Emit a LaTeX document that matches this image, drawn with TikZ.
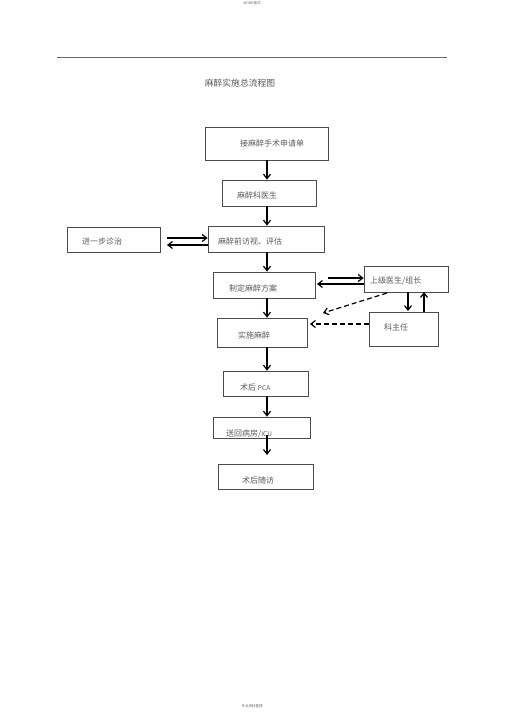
\documentclass[tikz,border=0pt]{standalone}
\usepackage{fontspec}
\setmainfont{Liberation Serif}
\newfontfamily\cjk{Noto Sans CJK SC}
\usetikzlibrary{arrows.meta}
\tikzset{
  box/.style={draw=black!70, line width=0.7pt, inner sep=0pt},
  lbl/.style={anchor=west, inner sep=0pt, font=\cjk\fontsize{8}{9}\selectfont, text=black!65},
  arr/.style={line width=1.2pt, -{Straight Barb[length=4.5pt,width=7pt,line width=1.2pt]}},
  darr/.style={arr, dashed, dash pattern=on 5pt off 3pt}
}
\newcommand{\bx}[5]{\node[box, minimum width=#3pt-#1pt, minimum height=#4pt-#2pt] (#5) at ({(#1+#3)/2},{(#2+#4)/2}) {};}
\begin{document}
\begin{tikzpicture}[x=1pt,y=-1pt]
\useasboundingbox (0,0) rectangle (505,714);
\node[inner sep=0pt, font=\cjk\fontsize{3.5}{4}\selectfont, text=black!60] (hdr) at (252,3.5) {WORD格式};
\node[inner sep=0pt, font=\cjk\fontsize{3.5}{4}\selectfont, text=black!60] (ftr) at (252,706) {专业资料整理};
\draw[black!60, line width=0.8pt] (57,57) -- (447,57);
\node[inner sep=0pt, font=\cjk\fontsize{8.8}{10}\selectfont, text=black!65] (title) at (240,83) {麻醉实施总流程图};
% boxes
\bx{205}{127}{328}{160}{b1}
\bx{222}{180}{316}{206}{b2}
\bx{208}{226}{324}{252}{b3}
\bx{67}{227}{160}{252}{b0}
\bx{213}{272}{315}{298}{b4}
\bx{364}{266}{448}{292}{b5}
\bx{217}{318}{307}{347}{b6}
\bx{369}{312}{438}{346}{b7}
\bx{223}{371}{308}{396}{b8}
\bx{213}{417}{310}{438}{b9}
\bx{218}{464}{313}{489}{b10}
% labels
\node[lbl] (t1) at (240,143) {接麻醉手术申请单};
\node[lbl] (t2) at (237,195) {麻醉科医生};
\node[lbl] (t3) at (218,241) {麻醉前访视、评估};
\node[lbl] (t0) at (82,241) {进一步诊治};
\node[lbl] (t4) at (229,288) {制定麻醉方案};
\node[lbl] (t5) at (370,281) {上级医生/组长};
\node[lbl] (t6) at (238,335) {实施麻醉};
\node[lbl] (t7) at (384,327) {科主任};
\node[lbl] (t8) at (240,387) {术后 {\fontsize{6.5}{8}\selectfont PCA}};
\node[lbl] (t9) at (226,434) {送回病房/{\fontsize{6.5}{8}\selectfont ICU}};
\node[lbl] (t10) at (242,480) {术后随访};
% helper coordinates
\coordinate (ax) at (267,0);
\coordinate (endA) at (267,455);
\coordinate (s03a) at (167,238);
\coordinate (s03b) at (167,245);
\coordinate (s45a) at (328,278);
\coordinate (s45b) at (317,284);
\coordinate (d1s) at (387,293);
\coordinate (d1e) at (323,313);
\coordinate (d2e) at (310,324);
% vertical arrows
\draw[arr] (b1.south -| ax) -- (b2.north -| ax);
\draw[arr] (b2.south -| ax) -- (b3.north -| ax);
\draw[arr] (b3.south -| ax) -- (b4.north -| ax);
\draw[arr] (b4.south -| ax) -- (b6.north -| ax);
\draw[arr] (b6.south -| ax) -- (b8.north -| ax);
\draw[arr] (b8.south -| ax) -- (b9.north -| ax);
\draw[arr] ([yshift=3pt]b9.south -| ax) -- (endA);
% horizontal pairs
\draw[arr] (s03a) -- (s03a -| b3.west);
\draw[arr] (s03b -| b3.west) -- (s03b);
\draw[arr] (s45a) -- (s45a -| b5.west);
\draw[arr] (s45b -| b5.west) -- (s45b);
% b5 <-> b7
\draw[arr] (408,292) -- (408,311);
\draw[arr] (424,312) -- (424,292);
% dashed
\draw[darr] (d1s) -- (d1e);
\draw[darr] (b7.west |- d2e) -- (d2e);
\end{tikzpicture}
\end{document}
